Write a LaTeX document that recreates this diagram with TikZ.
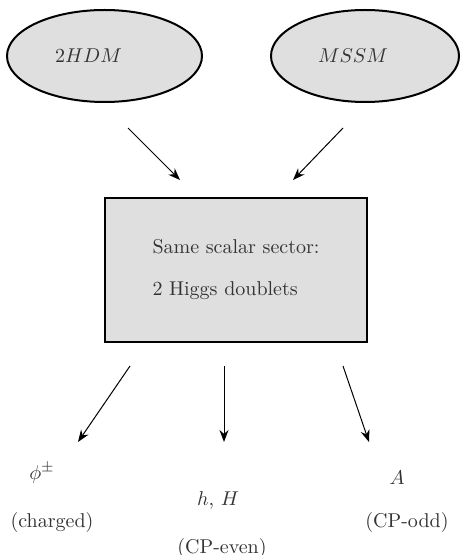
\documentclass[tikz,border=0pt]{standalone}
\usetikzlibrary{shapes.geometric,arrows.meta}
\begin{document}
\begin{tikzpicture}[x=0.5pt,y=-0.5pt,
  model/.style={ellipse,draw,line width=1pt,fill=gray!25,minimum height=46pt,align=left,text=black!80},
  sectorbox/.style={rectangle,draw,line width=0.8pt,fill=gray!25,minimum width=131pt,minimum height=72pt,align=left,text=black!80},
  field/.style={text=black!80,inner sep=0pt},
  flow/.style={-{Stealth[length=6pt,width=4.5pt]},line width=0.5pt}]
\useasboundingbox (0,0) rectangle (461,555);
% the two models
\node[model,minimum width=97.5pt,text width=49.5pt] (thdm) at (104.5,56) {$2HDM$};
\node[model,minimum width=94pt,text width=47pt] (mssm) at (365,56) {$MSSM$};
% common scalar sector
\node[sectorbox] (sector) at (236,270) {Same scalar sector:\\[9pt]2 Higgs doublets};
% physical states
\node[field] (phi) at (42,473) {$\phi^\pm$};
\node[field] (charged) at (52,522) {(charged)};
\node[field] (hH) at (218,500) {$h$, $H$};
\node[field] (even) at (222,548) {(CP-even)};
\node[field] (A) at (397,478) {$A$};
\node[field] (odd) at (407,522) {(CP-odd)};
% arrow ends
\coordinate (thdm-out) at (128,128);
\coordinate (mssm-out) at (343,128);
\coordinate (sector-inl) at (180,180);
\coordinate (sector-inr) at (293,180);
\coordinate (sector-outl) at (130,366);
\coordinate (sector-outm) at (224,366);
\coordinate (sector-outr) at (343,366);
\coordinate (phi-in) at (78,442);
\coordinate (hH-in) at (224,442);
\coordinate (A-in) at (369,442);
\draw[flow] (thdm-out) -- (sector-inl);
\draw[flow] (mssm-out) -- (sector-inr);
\draw[flow] (sector-outl) -- (phi-in);
\draw[flow] (sector-outm) -- (hH-in);
\draw[flow] (sector-outr) -- (A-in);
\end{tikzpicture}
\end{document}
